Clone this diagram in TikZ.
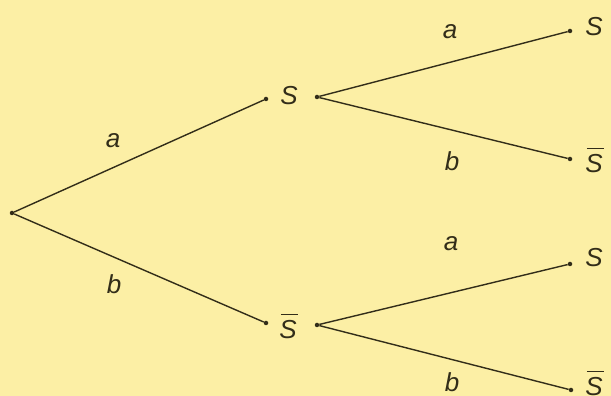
\documentclass[tikz,border=0pt]{standalone}
\usepackage{fontspec}
\setmainfont{Liberation Sans}
\definecolor{bg}{RGB}{252,239,165}
\definecolor{ink}{RGB}{50,45,25}
\newsavebox{\mySbox}
\newcommand{\Sbar}{\savebox{\mySbox}{S}\rlap{\hspace{1.5pt}\raisebox{\dimexpr\ht\mySbox+5pt}{\rule{\wd\mySbox}{1.3pt}}}S}
\begin{document}
\begin{tikzpicture}[x=1pt,y=1pt,
  dot/.style={circle,fill=ink,inner sep=0pt,minimum size=4.5pt},
  lbl/.style={inner sep=0pt,font=\fontsize{26}{30}\selectfont\itshape,text=ink},
  edge/.style={draw=ink,line width=1.4pt}]
\fill[bg] (0,0) rectangle (611,396);
\useasboundingbox (0,0) rectangle (611,396);
% root
\node[dot] (r) at (12,183) {};
% middle level
\node[dot] (s1l) at (266,297) {};
\node[lbl] (s1) at (289,300) {S};
\node[dot] (s1r) at (317,299) {};
\node[dot] (s2l) at (266,73) {};
\node[lbl] (s2) at (288,70) {\Sbar};
\node[dot] (s2r) at (317,71) {};
% right level
\node[dot] (t1d) at (570,365) {};
\node[lbl] (t1) at (594,369) {S};
\node[dot] (t2d) at (570,237) {};
\node[lbl] (t2) at (594,236) {\Sbar};
\node[dot] (t3d) at (570,132) {};
\node[lbl] (t3) at (594,138) {S};
\node[dot] (t4d) at (571,6) {};
\node[lbl] (t4) at (594,13) {\Sbar};
% edges
\draw[edge] (r) -- (s1l);
\draw[edge] (r) -- (s2l);
\draw[edge] (s1r) -- (t1d);
\draw[edge] (s1r) -- (t2d);
\draw[edge] (s2r) -- (t3d);
\draw[edge] (s2r) -- (t4d);
% labels
\node[lbl] (la1) at (113,255) {a};
\node[lbl] (lb1) at (114,112) {b};
\node[lbl] (la2) at (450,364) {a};
\node[lbl] (lb2) at (452,235) {b};
\node[lbl] (la3) at (451,152) {a};
\node[lbl] (lb3) at (452,14) {b};
\end{tikzpicture}
\end{document}
